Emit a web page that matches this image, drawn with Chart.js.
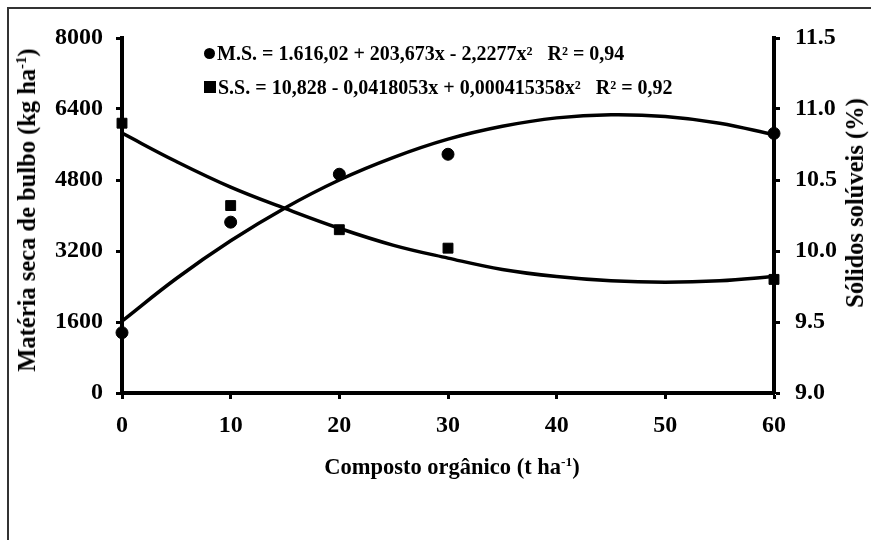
<!DOCTYPE html>
<html>
<head>
<meta charset="utf-8">
<script src="https://cdn.jsdelivr.net/npm/chart.js@4"></script>
<style>
  body { margin: 0; background: #fff; }
  #wrap { position: relative; width: 871px; height: 540px; overflow: hidden; font-family: "Liberation Serif", "Times New Roman", serif; font-weight: bold; color: #000; }
  #frame { position: absolute; left: 7px; top: 7px; width: 900px; height: 600px; border-top: 2px solid #333; border-left: 2px solid #333; }
  #chart-box { position: absolute; left: 0; top: 0; width: 871px; height: 540px; }
  .title { position: absolute; white-space: nowrap; font-size: 24.5px; }
  .rot { transform: translate(-50%, -50%) rotate(-90deg); }
  .eq { position: absolute; white-space: nowrap; font-size: 20px; line-height: 20px; transform: translateY(-50%); }
  .mk { display: inline-block; background: #000; margin-right: 2px; vertical-align: 1px; }
  .circ { width: 11px; height: 11px; border-radius: 50%; }
  .sq { width: 12px; height: 12px; }
  sup { font-size: 0.6em; vertical-align: 0.6em; line-height: 0; }
</style>
</head>
<body>
<div id="wrap">
  <div id="frame"></div>
  <div id="chart-box"><canvas id="grafico"></canvas></div>
  <div class="title rot" style="left:27px; top:210px;">Matéria seca de bulbo (kg ha<sup>-1</sup>)</div>
  <div class="title rot" style="left:855px; top:203px;">Sólidos solúveis (%)</div>
  <div class="title" style="left:452px; top:467px; font-size:22.5px; transform: translate(-50%, -50%);">Composto orgânico (t ha<sup>-1</sup>)</div>
  <div class="eq" style="left:204px; top:53px;"><span class="mk circ"></span>M.S. = 1.616,02 + 203,673x - 2,2277x²&nbsp;&nbsp;&nbsp;R² = 0,94</div>
  <div class="eq" style="left:204px; top:87px;"><span class="mk sq"></span>S.S. = 10,828 - 0,0418053x + 0,000415358x²&nbsp;&nbsp;&nbsp;R² = 0,92</div>
</div>
<script>
// doses de composto (t ha-1)
const doses = [0, 10, 20, 30, 60];
const materiaSeca = [1360, 3850, 4930, 5380, 5850];
const solidosSoluveis = [10.9, 10.32, 10.15, 10.02, 9.8];

// curvas ajustadas
const curvaX = [0, 5, 10, 15, 20, 25, 30, 35, 40, 45, 50, 55, 60];
const curvaMateriaSeca = [1620, 2580, 3430, 4170, 4800, 5310, 5720, 6010, 6200, 6270, 6230, 6080, 5820];
const curvaSolidos = [10.83, 10.63, 10.45, 10.3, 10.16, 10.04, 9.95, 9.87, 9.82, 9.79, 9.78, 9.79, 9.82];

const xTicks = [0, 10, 20, 30, 40, 50, 60];

const toPoints = (xs, ys) => xs.map((x, i) => ({ x: x, y: ys[i] }));

const tickFont = { family: "Liberation Serif", size: 24, weight: "bold" };

function axisGrid() {
  return { drawOnChartArea: false, drawTicks: true, tickLength: 6, tickWidth: 3, tickColor: "#000" };
}

new Chart(document.getElementById("grafico"), {
  type: "scatter",
  data: {
    datasets: [
      {
        type: "line",
        data: toPoints(curvaX, curvaMateriaSeca),
        yAxisID: "y",
        borderColor: "#000",
        borderWidth: 3.5,
        pointRadius: 0,
        tension: 0.4,
        fill: false,
      },
      {
        type: "line",
        data: toPoints(curvaX, curvaSolidos),
        yAxisID: "y1",
        borderColor: "#000",
        borderWidth: 3.5,
        pointRadius: 0,
        tension: 0.4,
        fill: false,
      },
      {
        data: toPoints(doses, materiaSeca),
        yAxisID: "y",
        pointStyle: "circle",
        pointRadius: 6,
        backgroundColor: "#000",
        borderColor: "#000",
        clip: false,
      },
      {
        data: toPoints(doses, solidosSoluveis),
        yAxisID: "y1",
        pointStyle: "rect",
        pointRadius: 7,
        backgroundColor: "#000",
        borderColor: "#000",
        clip: false,
      },
    ],
  },
  options: {
    responsive: true,
    maintainAspectRatio: false,
    animation: false,
    layout: { padding: { top: 38, left: 0, right: 0, bottom: 0 } },
    plugins: { legend: { display: false }, tooltip: { enabled: false } },
    scales: {
      x: {
        type: "linear",
        min: 0,
        max: 60,
        afterBuildTicks: (scale) => { scale.ticks = xTicks.map((v) => ({ value: v })); },
        afterFit: (scale) => { scale.height = 147; },
        grid: axisGrid(),
        border: { display: true, color: "#000", width: 4 },
        ticks: { color: "#000", font: tickFont, padding: 12, callback: (v) => String(v) },
      },
      y: {
        position: "left",
        min: 0,
        max: 8000,
        ticks: { stepSize: 1600, color: "#000", font: tickFont, padding: 13, callback: (v) => String(v) },
        afterFit: (scale) => { scale.width = 122; },
        grid: axisGrid(),
        border: { display: true, color: "#000", width: 4 },
      },
      y1: {
        position: "right",
        min: 9,
        max: 11.5,
        ticks: {
          stepSize: 0.5,
          color: "#000",
          font: tickFont,
          padding: 15,
          callback: (v) => v.toFixed(1),
        },
        afterFit: (scale) => { scale.width = 97; },
        grid: axisGrid(),
        border: { display: true, color: "#000", width: 4 },
      },
    },
  },
});
</script>
</body>
</html>
